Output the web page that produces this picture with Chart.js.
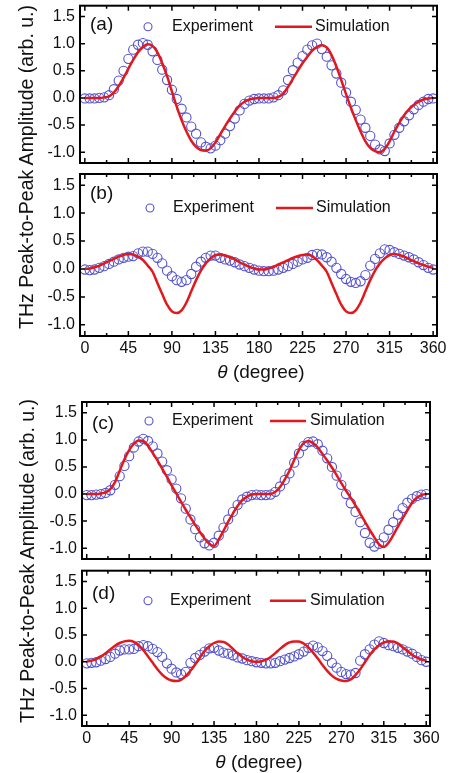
<!DOCTYPE html>
<html>
<head>
<meta charset="utf-8">
<script src="https://cdn.jsdelivr.net/npm/chart.js@4.4.0/dist/chart.umd.min.js"></script>
<style>
  body { margin: 0; background: #fff; width: 451px; height: 773px; overflow: hidden; position: relative; font-family: "Liberation Sans", Arial, sans-serif; }
  canvas { position: absolute; left: 0; }
  .ylab { position: absolute; white-space: nowrap; font-size: 19.5px; color: #111; transform: translate(-50%, -50%) rotate(-90deg); }
  .xlab { position: absolute; white-space: nowrap; font-size: 19px; color: #111; transform: translate(-50%, -50%); }
</style>
</head>
<body>
<canvas id="pa" width="451" height="170" style="top:0px"></canvas>
<canvas id="pb" width="451" height="200" style="top:165px"></canvas>
<canvas id="pc" width="451" height="170" style="top:395px"></canvas>
<canvas id="pd" width="451" height="208" style="top:565px"></canvas>

<div class="ylab" style="left:26px; top:167px">THz Peak-to-Peak Amplitude (arb. u.)</div>
<div class="ylab" style="left:27px; top:561px">THz Peak-to-Peak Amplitude (arb. u.)</div>
<div class="xlab" style="left:261px; top:372px"><i>&theta;</i> (degree)</div>
<div class="xlab" style="left:259px; top:762px"><i>&theta;</i> (degree)</div>

<script>
// angle grid (degrees)
var theta = [0,5,10,15,20,25,30,35,40,45,50,55,60,65,70,75,80,85,90,95,100,105,110,115,120,125,130,135,140,145,150,155,160,165,170,175,
  180,185,190,195,200,205,210,215,220,225,230,235,240,245,250,255,260,265,270,275,280,285,290,295,300,305,310,315,320,325,330,335,340,345,350,355,360];

var xTickVals = [0,45,90,135,180,225,270,315,360];
var yTickVals = [-1.0,-0.5,0.0,0.5,1.0,1.5];
var seriesNames = ['Experiment','Simulation'];

// panel (a)
var expA = [-0.01,-0.01,-0.01,0.00,0.01,0.05,0.16,0.32,0.50,
  0.72,0.89,0.98,1.01,0.98,0.86,0.70,0.52,0.33,
  0.15,-0.02,-0.20,-0.36,-0.53,-0.66,-0.82,-0.90,-0.93,
  -0.88,-0.78,-0.66,-0.52,-0.38,-0.23,-0.11,-0.05,-0.02,
  -0.01,-0.01,-0.01,0.01,0.05,0.14,0.33,0.51,0.65,
  0.77,0.89,0.97,1.00,0.90,0.76,0.60,0.45,0.28,
  0.10,-0.07,-0.22,-0.40,-0.55,-0.70,-0.86,-0.95,-0.98,
  -0.84,-0.68,-0.55,-0.43,-0.32,-0.21,-0.13,-0.07,-0.02,
  -0.01];
var simA = [0,0,0,0,0.01,0.03,0.10,0.22,0.37,
  0.54,0.70,0.84,0.94,0.99,0.96,0.84,0.64,0.40,
  0.12,-0.16,-0.41,-0.62,-0.79,-0.90,-0.96,-0.97,-0.93,
  -0.82,-0.67,-0.52,-0.38,-0.25,-0.14,-0.07,-0.03,-0.01,
  0,0,0,0,0.02,0.08,0.20,0.35,0.50,
  0.64,0.76,0.87,0.94,0.97,0.93,0.79,0.58,0.33,
  0.07,-0.18,-0.41,-0.62,-0.80,-0.92,-0.98,-1.00,-0.94,
  -0.80,-0.62,-0.46,-0.32,-0.21,-0.13,-0.07,-0.03,-0.01,
  0];

// panel (b)
var expB = [-0.01,-0.02,-0.01,0.02,0.05,0.09,0.13,0.17,0.20,
  0.22,0.23,0.28,0.31,0.31,0.27,0.20,0.10,-0.03,
  -0.13,-0.20,-0.23,-0.20,-0.09,0.04,0.13,0.20,0.24,
  0.24,0.20,0.17,0.15,0.12,0.08,0.05,0.02,-0.01,
  -0.03,-0.04,-0.04,-0.03,-0.01,0.02,0.05,0.09,0.13,
  0.17,0.20,0.25,0.27,0.26,0.21,0.13,0.02,-0.09,
  -0.18,-0.23,-0.25,-0.22,-0.11,0.06,0.18,0.28,0.35,
  0.34,0.30,0.27,0.24,0.21,0.17,0.12,0.07,0.02,
  -0.01];
var simB = [0,0.01,0.03,0.06,0.10,0.14,0.18,0.22,0.25,
  0.27,0.26,0.22,0.16,0.06,-0.05,-0.25,-0.45,-0.64,
  -0.76,-0.79,-0.74,-0.60,-0.40,-0.20,-0.03,0.10,0.19,
  0.25,0.26,0.24,0.21,0.17,0.12,0.08,0.04,0.01,
  -0.01,-0.01,0.01,0.04,0.08,0.12,0.16,0.20,0.23,
  0.25,0.26,0.23,0.16,0.06,-0.05,-0.25,-0.45,-0.64,
  -0.76,-0.79,-0.74,-0.60,-0.40,-0.20,-0.03,0.10,0.19,
  0.25,0.27,0.25,0.22,0.18,0.14,0.10,0.07,0.04,
  0.02];

// panel (c)
var expC = [-0.02,-0.02,-0.01,0.00,0.02,0.07,0.17,0.33,0.52,
  0.70,0.86,0.97,1.02,0.98,0.88,0.75,0.60,0.44,
  0.27,0.10,-0.08,-0.27,-0.47,-0.65,-0.80,-0.91,-0.95,
  -0.90,-0.77,-0.62,-0.47,-0.33,-0.20,-0.10,-0.05,-0.02,
  -0.01,-0.02,-0.02,-0.01,0.04,0.14,0.26,0.38,0.58,
  0.75,0.89,0.96,0.97,0.92,0.80,0.66,0.50,0.34,
  0.17,0.00,-0.17,-0.33,-0.52,-0.72,-0.90,-0.97,-0.92,
  -0.80,-0.66,-0.52,-0.38,-0.26,-0.16,-0.09,-0.04,-0.01,
  0];
var simC = [0,0,0,0.01,0.03,0.09,0.22,0.43,0.64,
  0.81,0.93,0.99,0.98,0.89,0.76,0.62,0.47,0.32,
  0.16,0.01,-0.14,-0.29,-0.43,-0.57,-0.70,-0.82,-0.92,
  -0.96,-0.84,-0.68,-0.51,-0.36,-0.22,-0.11,-0.05,-0.01,
  0,0,0,0,0.04,0.13,0.27,0.43,0.63,
  0.81,0.94,0.98,0.94,0.86,0.74,0.62,0.49,0.35,
  0.20,0.06,-0.07,-0.21,-0.36,-0.51,-0.66,-0.80,-0.93,
  -0.98,-0.90,-0.76,-0.60,-0.45,-0.30,-0.16,-0.07,-0.02,
  0];

// panel (d)
var expD = [-0.03,-0.02,-0.01,0.02,0.05,0.09,0.15,0.21,0.23,
  0.23,0.24,0.29,0.31,0.29,0.24,0.18,0.09,-0.03,
  -0.13,-0.20,-0.23,-0.19,-0.02,0.07,0.13,0.19,0.25,
  0.26,0.21,0.17,0.15,0.12,0.08,0.06,0.03,0.01,
  -0.01,-0.02,-0.03,-0.03,-0.02,0.01,0.04,0.07,0.10,
  0.14,0.19,0.26,0.30,0.27,0.20,0.11,-0.02,-0.11,
  -0.19,-0.23,-0.24,-0.21,0.02,0.14,0.23,0.32,0.38,
  0.35,0.31,0.29,0.26,0.23,0.19,0.15,0.09,0.03,
  0.00];
var simD = [0,0.02,0.05,0.10,0.16,0.23,0.30,0.35,0.38,
  0.39,0.37,0.31,0.22,0.10,-0.02,-0.14,-0.24,-0.31,
  -0.35,-0.36,-0.34,-0.27,-0.17,-0.05,0.08,0.20,0.29,
  0.35,0.38,0.37,0.32,0.24,0.16,0.09,0.04,0.01,
  0,0.01,0.04,0.09,0.16,0.24,0.31,0.36,0.38,
  0.38,0.34,0.27,0.17,0.06,-0.06,-0.17,-0.26,-0.32,
  -0.35,-0.36,-0.33,-0.25,-0.14,-0.01,0.12,0.23,0.31,
  0.36,0.38,0.38,0.34,0.27,0.20,0.13,0.08,0.04,
  0.02];

var FONT = '"Liberation Sans", Arial, sans-serif';
var BLUE = '#5252d0';
var RED = '#e2191c';

// box around the plot with inward ticks (Origin style)
var frame = {
  id: 'frame',
  afterDraw: function(chart) {
    var ctx = chart.ctx, a = chart.chartArea, x = chart.scales.x, y = chart.scales.y;
    ctx.save();
    ctx.strokeStyle = '#000';
    ctx.lineWidth = 1.5;
    ctx.beginPath();
    xTickVals.forEach(function(t, i) {
      var px = x.getPixelForValue(t);
      ctx.moveTo(px, a.bottom); ctx.lineTo(px, a.bottom - 5);
      ctx.moveTo(px, a.top); ctx.lineTo(px, a.top + 5);
      if (i < xTickVals.length - 1) {
        var pm = x.getPixelForValue((t + xTickVals[i + 1]) / 2);
        ctx.moveTo(pm, a.bottom); ctx.lineTo(pm, a.bottom - 3);
        ctx.moveTo(pm, a.top); ctx.lineTo(pm, a.top + 3);
      }
    });
    yTickVals.forEach(function(t) {
      var py = y.getPixelForValue(t);
      ctx.moveTo(a.left, py); ctx.lineTo(a.left + 5, py);
      ctx.moveTo(a.right, py); ctx.lineTo(a.right - 5, py);
    });
    ctx.stroke();
    ctx.lineWidth = 2;
    ctx.strokeRect(a.left, a.top, a.right - a.left, a.bottom - a.top);
    ctx.restore();
  }
};

// panel letter + legend inside the plot
var panelLegend = {
  id: 'panelLegend',
  afterDraw: function(chart, args, o) {
    var ctx = chart.ctx, a = chart.chartArea;
    var sim = chart.data.datasets[0], exp = chart.data.datasets[1];
    var y = a.top + o.y;
    ctx.save();
    ctx.fillStyle = '#111';
    ctx.textBaseline = 'middle';
    ctx.font = '19px ' + FONT;
    ctx.fillText(o.label, a.left + o.lx, a.top + o.ly);
    ctx.font = '16px ' + FONT;
    ctx.strokeStyle = exp.pointBorderColor;
    ctx.lineWidth = exp.pointBorderWidth;
    ctx.beginPath();
    ctx.arc(a.left + o.cx, y, 4, 0, Math.PI * 2);
    ctx.stroke();
    ctx.fillText(exp.label, a.left + o.tx, y);
    ctx.strokeStyle = sim.borderColor;
    ctx.lineWidth = sim.borderWidth;
    ctx.beginPath();
    ctx.moveTo(a.left + o.l1, y);
    ctx.lineTo(a.left + o.l2, y);
    ctx.stroke();
    ctx.fillText(sim.label, a.left + o.sx, y);
    ctx.restore();
  }
};

function makePanel(id, exp, sim, cfg, leg) {
  new Chart(document.getElementById(id), {
    type: 'line',
    data: {
      datasets: [
        {
          label: seriesNames[1],
          data: theta.map(function(t, i) { return {x: t, y: sim[i]}; }),
          borderColor: RED,
          borderWidth: 2.5,
          pointRadius: 0,
          cubicInterpolationMode: 'monotone',
          order: 0
        },
        {
          label: seriesNames[0],
          data: theta.map(function(t, i) { return {x: t, y: exp[i]}; }),
          showLine: false,
          pointRadius: 4.6,
          pointBorderWidth: 1.1,
          pointBorderColor: BLUE,
          pointBackgroundColor: 'rgba(0,0,0,0)',
          order: 1
        }
      ]
    },
    options: {
      responsive: false,
      animation: false,
      events: [],
      layout: { padding: { top: cfg.top, right: cfg.right, left: 0, bottom: 0 } },
      plugins: {
        legend: { display: false },
        tooltip: { enabled: false },
        panelLegend: leg
      },
      scales: {
        x: {
          type: 'linear', min: -5, max: 364,
          afterBuildTicks: function(s) { s.ticks = xTickVals.map(function(v) { return {value: v}; }); },
          grid: { display: false, drawTicks: false },
          border: { display: false },
          ticks: { display: cfg.showX, color: '#111', font: { family: FONT, size: 16 }, padding: 3,
                   maxRotation: 0, autoSkip: false, callback: function(v) { return String(v); } },
          afterFit: function(s) { s.height = cfg.xh; s.paddingLeft = 0; s.paddingRight = 0; }
        },
        y: {
          type: 'linear', min: -1.2, max: 1.7,
          afterBuildTicks: function(s) { s.ticks = yTickVals.map(function(v) { return {value: v}; }); },
          grid: { display: false, drawTicks: false },
          border: { display: false },
          ticks: { color: '#111', font: { family: FONT, size: 16 }, padding: 5,
                   callback: function(v) { return v.toFixed(1); } },
          afterFit: function(s) { s.width = cfg.yw; s.paddingTop = 0; s.paddingBottom = 0; }
        }
      }
    },
    plugins: [frame, panelLegend]
  });
}

makePanel('pa', expA, simA, {top: 1, right: 14, xh: 7, yw: 80, showX: false},
  {label: '(a)', lx: 10, ly: 19, y: 21, cx: 68, tx: 92, l1: 195, l2: 232, sx: 235});
makePanel('pb', expB, simB, {top: 9, right: 14, xh: 29, yw: 80, showX: true},
  {label: '(b)', lx: 10, ly: 20, y: 34, cx: 70, tx: 93, l1: 196, l2: 233, sx: 236});
makePanel('pc', expC, simC, {top: 7, right: 21, xh: 6, yw: 82, showX: false},
  {label: '(c)', lx: 10, ly: 22, y: 19, cx: 67, tx: 90, l1: 188, l2: 224, sx: 228});
makePanel('pd', expD, simD, {top: 5, right: 21, xh: 47, yw: 82, showX: true},
  {label: '(d)', lx: 10, ly: 23, y: 30, cx: 66, tx: 88, l1: 188, l2: 224, sx: 228});
</script>
</body>
</html>
